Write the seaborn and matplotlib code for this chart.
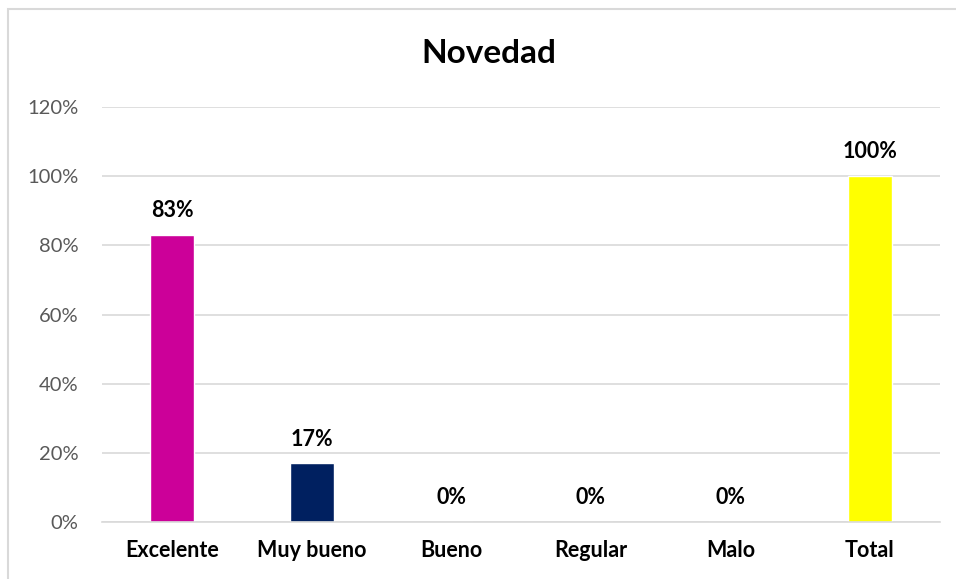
import pandas as pd
import matplotlib.pyplot as plt
import matplotlib.patches as mpatches
import seaborn as sns
from matplotlib.ticker import PercentFormatter

# ── Data ─────────────────────────────────────────────
categories = ['Excelente', 'Muy bueno', 'Bueno', 'Regular', 'Malo', 'Total']
values = [0.83, 0.17, 0.0, 0.0, 0.0, 1.0]
bar_colors = ['#CC0099', '#002060', '#4472C4', '#A5A5A5', '#FFC000', '#FFFF00']
title = 'Novedad'

df = pd.DataFrame({'Categoria': categories, 'Valor': values})

# ── Figure ───────────────────────────────────────────
sns.set_theme(style='white')
plt.rcParams['font.family'] = ['Lato', 'DejaVu Sans']

fig = plt.figure(figsize=(9.56, 5.79), dpi=100)
ax = fig.add_axes([0.107, 0.098, 0.876, 0.717])

sns.barplot(data=df, x='Categoria', y='Valor', hue='Categoria',
            palette=bar_colors, legend=False, width=0.315, ax=ax,
            saturation=1)

ax.set_ylim(0, 1.2)
ax.set_yticks([0, 0.2, 0.4, 0.6, 0.8, 1.0, 1.2])
ax.yaxis.set_major_formatter(PercentFormatter(1.0, decimals=0))
ax.grid(axis='y', color='#D9D9D9', linewidth=1.2)
ax.set_axisbelow(True)
ax.set_xlabel('')
ax.set_ylabel('')
ax.set_xlim(-0.5, len(categories) - 0.5)
for s in ['top', 'right', 'left']:
    ax.spines[s].set_visible(False)
ax.spines['bottom'].set_color('#D9D9D9')
ax.spines['bottom'].set_linewidth(1.2)

ax.tick_params(axis='y', labelsize=14.5, labelcolor='#595959', length=0, pad=17)
ax.tick_params(axis='x', labelsize=15.5, length=0, pad=13)
for lbl in ax.get_xticklabels():
    lbl.set_fontweight('bold')
    lbl.set_color('black')

# data labels
for i, v in enumerate(values):
    ax.annotate(f'{v:.0%}', (i, v), xytext=(0, 10), textcoords='offset points',
                ha='center', va='bottom', fontsize=15.5, fontweight='bold',
                color='black')

fig.text(0.511, 0.907, title, ha='center', va='center',
         fontsize=24, fontweight='bold', color='black')

# chart border (Excel style)
fig.patches.append(mpatches.Rectangle((8 / 956, -0.1), 1.2, 1 - 9 / 579 + 0.1,
                                      transform=fig.transFigure, fill=False,
                                      edgecolor='#D9D9D9', linewidth=1.5))

plt.savefig('out.png', dpi=100)
